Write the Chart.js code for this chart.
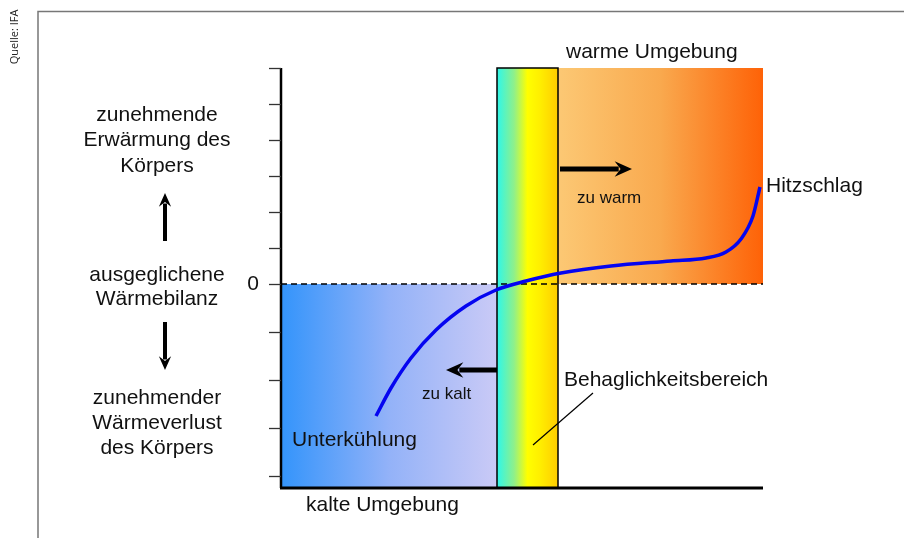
<!DOCTYPE html>
<html>
<head>
<meta charset="utf-8">
<script src="https://cdn.jsdelivr.net/npm/chart.js@4/dist/chart.umd.min.js"></script>
<style>
html,body{margin:0;padding:0;background:#fff;}
#wrap{position:relative;width:904px;height:538px;}
</style>
</head>
<body>
<div id="wrap"><canvas id="c" width="904" height="538"></canvas></div>
<script>
// Heat balance curve (x: environment, y: heat balance of the body)
const curveX = [95, 110, 130, 155, 185, 215, 245, 280, 330, 390, 425, 445, 460, 472, 479];
const curveY = [-132, -104, -74, -46, -22, -6, 3, 11, 18, 23, 26, 32, 45, 68, 97];
// y-axis tick values (0 = balanced heat budget)
const yTicks = [216, 180, 144, 108, 72, 36, 0, -48, -96, -144, -192];
// zones along the x axis
const coldZone = [0, 216];
const comfortZone = [216, 277];
const warmZone = [277, 482];
const xRange = [0, 482];
const yRange = [-204, 216];

const labelsLeftUp = ['zunehmende', 'Erwärmung des', 'Körpers'];
const labelsLeftMid = ['ausgeglichene', 'Wärmebilanz'];
const labelsLeftDown = ['zunehmender', 'Wärmeverlust', 'des Körpers'];

const FONT = '"Liberation Sans", Arial, sans-serif';

const points = curveX.map((x, i) => ({x: x, y: curveY[i]}));

function arrow(ctx, x1, y1, x2, y2, w, head) {
  const ang = Math.atan2(y2 - y1, x2 - x1);
  const bx = x2 - Math.cos(ang) * head * 0.7;
  const by = y2 - Math.sin(ang) * head * 0.7;
  ctx.save();
  ctx.strokeStyle = '#000';
  ctx.fillStyle = '#000';
  ctx.lineWidth = w;
  ctx.beginPath(); ctx.moveTo(x1, y1); ctx.lineTo(bx, by); ctx.stroke();
  ctx.beginPath();
  ctx.moveTo(x2, y2);
  ctx.lineTo(x2 - Math.cos(ang - 0.42) * head, y2 - Math.sin(ang - 0.42) * head);
  ctx.lineTo(x2 - Math.cos(ang) * head * 0.6, y2 - Math.sin(ang) * head * 0.6);
  ctx.lineTo(x2 - Math.cos(ang + 0.42) * head, y2 - Math.sin(ang + 0.42) * head);
  ctx.closePath(); ctx.fill();
  ctx.restore();
}

const backgroundPlugin = {
  id: 'zones',
  beforeDatasetsDraw(chart) {
    const ctx = chart.ctx, xs = chart.scales.x, ys = chart.scales.y;
    const X = v => xs.getPixelForValue(v), Y = v => ys.getPixelForValue(v);
    ctx.save();
    // frame
    ctx.strokeStyle = '#777'; ctx.lineWidth = 1.5;
    ctx.beginPath(); ctx.moveTo(38, 538); ctx.lineTo(38, 11.5); ctx.lineTo(904, 11.5); ctx.stroke();
    // cold zone
    let x0 = X(coldZone[0]), x1 = X(coldZone[1]);
    let g = ctx.createLinearGradient(x0, 0, x1, 0);
    g.addColorStop(0, '#3394fb'); g.addColorStop(0.5, '#93b2f8'); g.addColorStop(1, '#cacaf6');
    ctx.fillStyle = g; ctx.fillRect(x0, Y(0), x1 - x0, Y(yRange[0]) - Y(0));
    // warm zone
    x0 = X(warmZone[0]); x1 = X(warmZone[1]);
    g = ctx.createLinearGradient(x0, 0, x1, 0);
    g.addColorStop(0, '#fcc874'); g.addColorStop(0.5, '#f9a94e'); g.addColorStop(1, '#fe6207');
    ctx.fillStyle = g; ctx.fillRect(x0, Y(yRange[1]), x1 - x0, Y(0) - Y(yRange[1]));
    // comfort zone
    x0 = X(comfortZone[0]); x1 = X(comfortZone[1]);
    g = ctx.createLinearGradient(x0, 0, x1, 0);
    g.addColorStop(0, '#2ef7ea'); g.addColorStop(0.28, '#8ff08a'); g.addColorStop(0.5, '#ffff00');
    g.addColorStop(0.7, '#ffef00'); g.addColorStop(1, '#ffcc00');
    ctx.fillStyle = g; ctx.fillRect(x0, Y(yRange[1]), x1 - x0, Y(yRange[0]) - Y(yRange[1]));
    ctx.strokeStyle = '#000'; ctx.lineWidth = 1.5;
    ctx.strokeRect(x0, Y(yRange[1]), x1 - x0, Y(yRange[0]) - Y(yRange[1]));
    // zero dashed line
    ctx.setLineDash([6, 4]); ctx.lineWidth = 1.5;
    ctx.beginPath(); ctx.moveTo(X(xRange[0]), Y(0)); ctx.lineTo(X(xRange[1]), Y(0)); ctx.stroke();
    ctx.setLineDash([]);
    // axes
    ctx.lineWidth = 2.5;
    ctx.beginPath(); ctx.moveTo(X(0), Y(yRange[1])); ctx.lineTo(X(0), Y(yRange[0])); ctx.stroke();
    ctx.lineWidth = 3;
    ctx.beginPath(); ctx.moveTo(X(0) - 1, Y(yRange[0])); ctx.lineTo(X(xRange[1]), Y(yRange[0])); ctx.stroke();
    // ticks
    ctx.lineWidth = 1.3; ctx.strokeStyle = '#333';
    yTicks.forEach(t => {
      const y = Math.round(Y(t)) + 0.5;
      ctx.beginPath(); ctx.moveTo(X(0) - 12, y); ctx.lineTo(X(0), y); ctx.stroke();
    });
    // leader line for comfort zone label
    ctx.strokeStyle = '#000'; ctx.lineWidth = 1.2;
    ctx.beginPath(); ctx.moveTo(593, 393); ctx.lineTo(533, 445); ctx.stroke();
    ctx.restore();
  },
  afterDatasetsDraw(chart) {
    const ctx = chart.ctx, xs = chart.scales.x, ys = chart.scales.y;
    const X = v => xs.getPixelForValue(v), Y = v => ys.getPixelForValue(v);
    ctx.save();
    ctx.fillStyle = '#111';
    ctx.textBaseline = 'middle';
    ctx.font = '21px ' + FONT;
    ctx.textAlign = 'center';
    labelsLeftUp.forEach((t, i) => ctx.fillText(t, 157, 115 + i * 25.5));
    labelsLeftMid.forEach((t, i) => ctx.fillText(t, 157, 275 + i * 24));
    labelsLeftDown.forEach((t, i) => ctx.fillText(t, 157, 398 + i * 25));
    ctx.fillText('0', 253, Y(0));
    ctx.textAlign = 'left';
    ctx.fillText('warme Umgebung', 566, 52);
    ctx.fillText('Hitzschlag', 766, 186);
    ctx.fillText('Behaglichkeitsbereich', 564, 380);
    ctx.fillText('Unterkühlung', 292, 440);
    ctx.fillText('kalte Umgebung', 306, 505);
    ctx.font = '17px ' + FONT;
    ctx.fillText('zu warm', 577, 198);
    ctx.fillText('zu kalt', 422, 394);
    // rotated source
    ctx.save();
    ctx.translate(15, 37); ctx.rotate(-Math.PI / 2);
    ctx.textAlign = 'center'; ctx.font = '11px "Open Sans", ' + FONT; ctx.fillStyle = '#222';
    ctx.fillText('Quelle: IFA', 0, 0);
    ctx.restore();
    // arrows
    arrow(ctx, 560, 169, 632, 169, 5, 19);
    arrow(ctx, 497, 370, 446, 370, 5, 19);
    arrow(ctx, 165, 241, 165, 193, 4, 15);
    arrow(ctx, 165, 322, 165, 370, 4, 15);
    ctx.restore();
  }
};

new Chart(document.getElementById('c'), {
  type: 'scatter',
  data: {
    datasets: [{
      data: points,
      showLine: true,
      borderColor: '#0505f0',
      borderWidth: 3.5,
      pointRadius: 0,
      cubicInterpolationMode: 'monotone',
      fill: false
    }]
  },
  options: {
    responsive: false,
    animation: false,
    devicePixelRatio: 1,
    layout: {padding: {left: 281, right: 141, top: 68, bottom: 50}},
    plugins: {legend: {display: false}, tooltip: {enabled: false}},
    scales: {
      x: {type: 'linear', display: false, min: xRange[0], max: xRange[1]},
      y: {type: 'linear', display: false, min: yRange[0], max: yRange[1]}
    }
  },
  plugins: [backgroundPlugin]
});
</script>
</body>
</html>
